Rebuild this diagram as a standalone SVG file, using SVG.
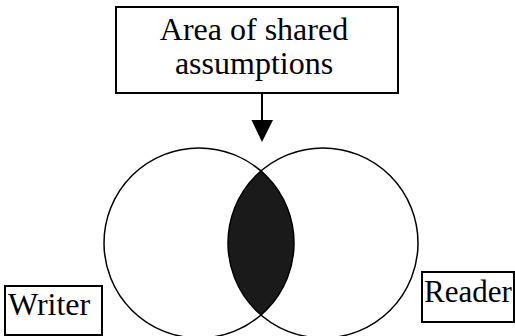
<svg xmlns="http://www.w3.org/2000/svg" width="515" height="336" viewBox="0 0 515 336">
<style>
.box{fill:#fff;stroke:#000;stroke-width:2}
.circ{fill:none;stroke:#000;stroke-width:1.5}
.t{font-family:"Liberation Serif","Times New Roman",serif;font-size:32px;fill:#000}
</style>
<rect width="515" height="336" fill="#fff"/>
<g id="overlap">
<path d="M261,171 A95,95 0 0,1 261,315 A95,95 0 0,1 261,171 Z" fill="#1a1a1a"/>
</g>
<g id="writer-circle"><circle class="circ" cx="199" cy="243" r="95"/></g>
<g id="reader-circle"><circle class="circ" cx="323" cy="243" r="95"/></g>
<g id="shared">
<rect class="box" x="116" y="7" width="282" height="86"/>
<text class="t" x="254" y="40" text-anchor="middle">Area of shared</text>
<text class="t" x="254" y="74" text-anchor="middle">assumptions</text>
</g>
<g id="writer">
<rect class="box" x="5" y="286" width="97" height="49"/>
<text class="t" x="8" y="315">Writer</text>
</g>
<g id="reader">
<rect class="box" x="422" y="272" width="92" height="50"/>
<text class="t" x="424" y="302" style="font-size:31px">Reader</text>
</g>
<g id="connectors">
<line x1="262" y1="93" x2="262" y2="122" stroke="#000" stroke-width="2"/>
<polygon points="251.5,120 273,120 262,142" fill="#000"/>
</g>
</svg>
